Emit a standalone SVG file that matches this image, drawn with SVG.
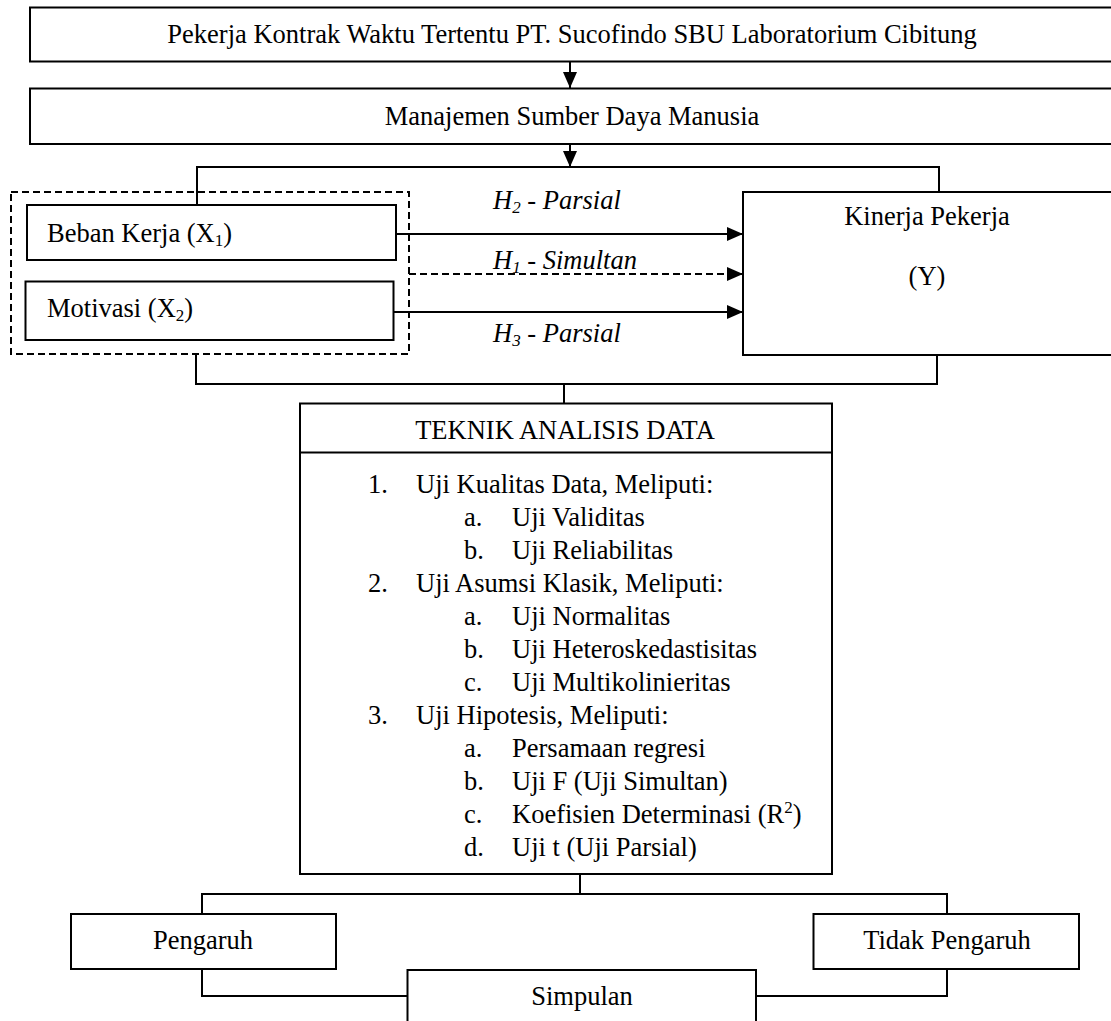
<svg xmlns="http://www.w3.org/2000/svg" width="1111" height="1021" viewBox="0 0 1111 1021">
<style>
text{font-family:"Liberation Serif","Times New Roman",serif;font-size:26.5px;fill:#000}
.c{text-anchor:middle}
.it{font-style:italic}
.box{fill:#fff;stroke:#000;stroke-width:2}
.ln{fill:none;stroke:#000;stroke-width:2}
.dash{fill:none;stroke:#000;stroke-width:2;stroke-dasharray:7 4}
.sub{font-size:17px}
</style>
<defs>
<marker id="ah" markerUnits="userSpaceOnUse" markerWidth="16" markerHeight="14" refX="16" refY="7" orient="auto">
<path d="M0,0 L16,7 L0,14 z" fill="#000"/>
</marker>
</defs>
<rect width="1111" height="1021" fill="#fff"/>
<g id="connectors">
<line class="ln" x1="570" y1="62" x2="570" y2="88" marker-end="url(#ah)"/>
<line class="ln" x1="570" y1="144" x2="570" y2="167" marker-end="url(#ah)"/>
<polyline class="ln" points="197,205 197,167 939,167 939,192"/>
<line class="ln" x1="396" y1="234" x2="743" y2="234" marker-end="url(#ah)"/>
<line class="dash" x1="409" y1="274" x2="743" y2="274" marker-end="url(#ah)"/>
<line class="ln" x1="394" y1="312" x2="743" y2="312" marker-end="url(#ah)"/>
<polyline class="ln" points="196,355 196,384 937,384 937,355"/>
<line class="ln" x1="564" y1="384" x2="564" y2="403"/>
<line class="ln" x1="580" y1="874" x2="580" y2="894"/>
<polyline class="ln" points="202,914 202,894 947,894 947,914"/>
<polyline class="ln" points="202,969 202,996 407,996"/>
<polyline class="ln" points="947,969 947,996 756,996"/>
</g>
<g id="group-x">
<rect class="dash" x="11" y="192" width="398" height="162"/>
</g>
<g id="pekerja-kontrak">
<rect class="box" x="30" y="7.5" width="1085" height="54"/>
<text class="c" x="572" y="43">Pekerja Kontrak Waktu Tertentu PT. Sucofindo SBU Laboratorium Cibitung</text>
</g>
<g id="msdm">
<rect class="box" x="30" y="88.5" width="1085" height="55.5"/>
<text class="c" x="572" y="124.5">Manajemen Sumber Daya Manusia</text>
</g>
<g id="beban-kerja">
<rect class="box" x="27" y="205" width="369" height="55"/>
<text x="47" y="242">Beban Kerja (X<tspan class="sub" dy="4">1</tspan><tspan dy="-4">)</tspan></text>
</g>
<g id="motivasi">
<rect class="box" x="25.5" y="281.5" width="368" height="58.5"/>
<text x="47" y="317">Motivasi (X<tspan class="sub" dy="4">2</tspan><tspan dy="-4">)</tspan></text>
</g>
<g id="labels">
<text class="it" x="493" y="209">H<tspan class="sub" dy="4">2</tspan><tspan dy="-4"> - Parsial</tspan></text>
<text class="it" x="493" y="269">H<tspan class="sub" dy="4">1</tspan><tspan dy="-4"> - Simultan</tspan></text>
<text class="it" x="493" y="342">H<tspan class="sub" dy="4">3</tspan><tspan dy="-4"> - Parsial</tspan></text>
</g>
<g id="kinerja">
<rect class="box" x="743" y="192" width="372" height="163"/>
<text class="c" x="927" y="225">Kinerja Pekerja</text>
<text class="c" x="927" y="285">(Y)</text>
</g>
<g id="teknik">
<rect class="box" x="300" y="403.5" width="532" height="470.5"/>
<line class="ln" x1="300" y1="452.5" x2="832" y2="452.5"/>
<text class="c" x="565" y="439">TEKNIK ANALISIS DATA</text>
<text x="368" y="493">1.</text><text x="416" y="493">Uji Kualitas Data, Meliputi:</text>
<text x="464" y="526">a.</text><text x="512" y="526">Uji Validitas</text>
<text x="464" y="559">b.</text><text x="512" y="559">Uji Reliabilitas</text>
<text x="368" y="592">2.</text><text x="416" y="592">Uji Asumsi Klasik, Meliputi:</text>
<text x="464" y="625">a.</text><text x="512" y="625">Uji Normalitas</text>
<text x="464" y="658">b.</text><text x="512" y="658">Uji Heteroskedastisitas</text>
<text x="464" y="691">c.</text><text x="512" y="691">Uji Multikolinieritas</text>
<text x="368" y="724">3.</text><text x="416" y="724">Uji Hipotesis, Meliputi:</text>
<text x="464" y="757">a.</text><text x="512" y="757">Persamaan regresi</text>
<text x="464" y="790">b.</text><text x="512" y="790">Uji F (Uji Simultan)</text>
<text x="464" y="823">c.</text><text x="512" y="823">Koefisien Determinasi (R<tspan class="sub" dy="-10">2</tspan><tspan dy="10">)</tspan></text>
<text x="464" y="856">d.</text><text x="512" y="856">Uji t (Uji Parsial)</text>
</g>
<g id="pengaruh">
<rect class="box" x="71" y="914" width="265" height="55"/>
<text class="c" x="203" y="949">Pengaruh</text>
</g>
<g id="tidak-pengaruh">
<rect class="box" x="813.5" y="914" width="265.5" height="55"/>
<text class="c" x="947" y="948.5">Tidak Pengaruh</text>
</g>
<g id="simpulan">
<rect class="box" x="407.5" y="970" width="348.5" height="60"/>
<text class="c" x="582" y="1005">Simpulan</text>
</g>
</svg>
